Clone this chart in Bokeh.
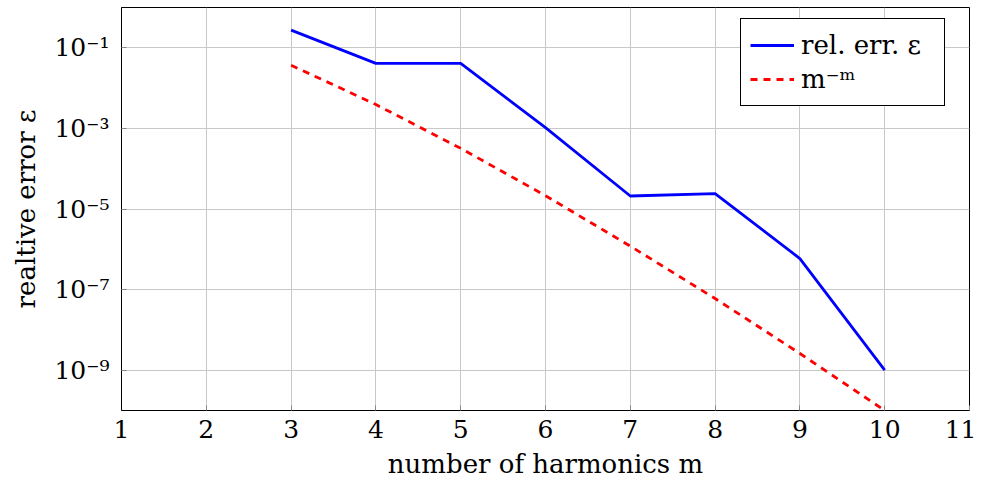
from bokeh.plotting import figure
from bokeh.models import Range1d, FixedTicker, Legend, LegendItem, ColumnDataSource
from bokeh.embed import file_html
from bokeh.resources import INLINE

m = [3, 4, 5, 6, 7, 8, 9, 10]
rel_err = [0.275, 0.041, 0.041, 1.04e-3, 2.1e-5, 2.4e-5, 5.9e-7, 1.0e-9]
m_pow = [3.7e-2, 3.9e-3, 3.2e-4, 2.14e-5, 1.2e-6, 6.0e-8, 2.6e-9, 1.0e-10]

x_ticks = [1, 2, 3, 4, 5, 6, 7, 8, 9, 10, 11]
y_ticks = [1e-1, 1e-3, 1e-5, 1e-7, 1e-9]
y_labels = ["10⁻¹", "10⁻³", "10⁻⁵", "10⁻⁷", "10⁻⁹"]

FONT = "'DejaVu Serif', serif"

p = figure(frame_width=848, frame_height=403, y_axis_type="log",
           x_range=Range1d(1, 11), y_range=Range1d(1e-10, 1e0),
           output_backend="svg", toolbar_location=None,
           min_border_left=121, min_border_right=7, min_border_top=7, min_border_bottom=72)
p.background_fill_color = "white"
p.border_fill_color = "white"
p.outline_line_color = "black"
p.outline_line_width = 1
p.outline_line_alpha = 1

src = ColumnDataSource(dict(m=m, e=rel_err, r=m_pow))
l1 = p.line("m", "e", source=src, line_color="#0000ff", line_width=2.8)
l2 = p.line("m", "r", source=src, line_color="#ff0000", line_width=2.8, line_dash="7 6")

p.xaxis.ticker = FixedTicker(ticks=x_ticks)
p.yaxis.ticker = FixedTicker(ticks=y_ticks)
p.yaxis.major_label_overrides = {t: l for t, l in zip(y_ticks, y_labels)}
for ax in [p.xaxis[0], p.yaxis[0]]:
    ax.major_tick_in = 5
    ax.major_tick_out = 0
    ax.minor_tick_in = 0
    ax.minor_tick_out = 0
    ax.axis_line_color = "black"
    ax.major_tick_line_color = "#888888"
    ax.major_label_text_font = FONT
    ax.major_label_text_font_size = "25px"
    ax.major_label_text_color = "black"
    ax.axis_label_text_font = FONT
    ax.axis_label_text_font_size = "26px"
    ax.axis_label_text_font_style = "normal"
    ax.axis_label_text_color = "black"
p.xaxis.major_label_standoff = 9
p.yaxis.major_label_standoff = 12
p.xaxis.axis_label = "number of harmonics m"
p.yaxis.axis_label = "realtive error ε"
p.xaxis.axis_label_standoff = 8
p.yaxis.axis_label_standoff = 10

p.xgrid.ticker = FixedTicker(ticks=x_ticks)
p.ygrid.ticker = FixedTicker(ticks=y_ticks)
p.grid.grid_line_color = "#c8c8c8"
p.grid.grid_line_width = 1
p.grid.grid_line_alpha = 1

legend = Legend(items=[LegendItem(label="rel. err. ε", renderers=[l1]),
                       LegendItem(label="m⁻ᵐ", renderers=[l2])],
                location=(619, 304))
legend.label_text_font = FONT
legend.label_text_font_size = "26px"
legend.label_text_color = "black"
legend.border_line_color = "black"
legend.border_line_width = 1
legend.border_line_alpha = 1
legend.background_fill_alpha = 1
legend.margin = 0
legend.padding = 9
legend.spacing = 0
legend.glyph_width = 44
legend.label_standoff = 7
legend.label_width = 134
legend.label_height = 34
legend.glyph_height = 34
p.add_layout(legend, "center")

open("out.html", "w").write(file_html(p, INLINE))
